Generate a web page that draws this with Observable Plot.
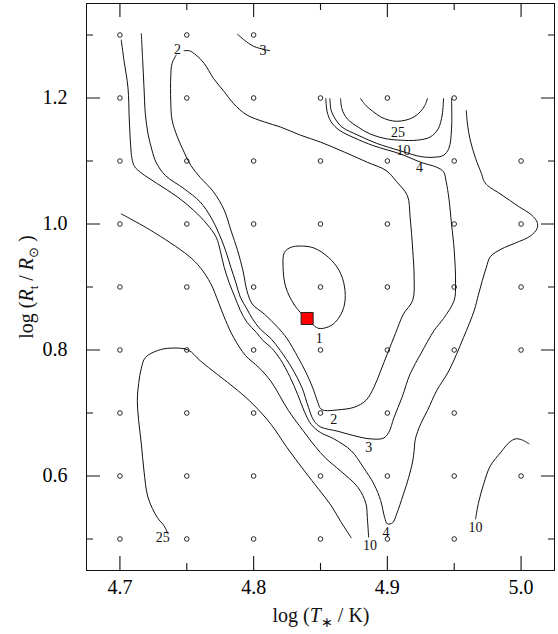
<!DOCTYPE html>
<html><head><meta charset="utf-8">
<script src="https://cdn.jsdelivr.net/npm/d3@7"></script>
<script src="https://cdn.jsdelivr.net/npm/@observablehq/plot@0.6"></script>
<style>
html,body{margin:0;padding:0;background:#fff;}
#chart svg{display:block;background:#fff;font-family:'Liberation Serif','Times New Roman',serif;}
</style>
</head><body><div id="chart"></div>
<script>
// Model grid
const gridLogT = [4.7, 4.75, 4.8, 4.85, 4.9, 4.95, 5.0];
const gridLogR = [0.5, 0.6, 0.7, 0.8, 0.9, 1.0, 1.1, 1.2, 1.3];
const gridLogTMax = [4.95, 5.0, 4.95, 5.0, 5.0, 5.0, 5.0, 4.95, 4.8];
// Best-fit model
const bestLogT = [4.84];
const bestLogR = [0.85];
// Ticks
const xMajorTicks = [4.7, 4.8, 4.9, 5.0];
const xMinorTicks = [4.75, 4.85, 4.95];
const yMajorTicks = [0.6, 0.8, 1.0, 1.2];
const yMinorTicks = [0.5, 0.7, 0.9, 1.1, 1.3];

// Contours [logT, logR]
const contour1 = [[4.836,0.857],[4.830,0.873],[4.824,0.900],[4.822,0.932],[4.823,0.955],[4.828,0.963],[4.835,0.965],[4.845,0.962],[4.856,0.947],[4.864,0.926],[4.868,0.900],[4.868,0.873],[4.864,0.852],[4.858,0.839],[4.850,0.834],[4.846,0.837],[4.843,0.844],[4.838,0.852]];
const contour2 = [[4.748,1.275],[4.752,1.275],[4.757,1.268],[4.763,1.255],[4.770,1.231],[4.778,1.210],[4.785,1.191],[4.795,1.173],[4.808,1.162],[4.820,1.154],[4.835,1.141],[4.850,1.130],[4.868,1.114],[4.885,1.098],[4.899,1.085],[4.907,1.067],[4.915,1.045],[4.917,1.011],[4.919,0.958],[4.920,0.916],[4.919,0.879],[4.912,0.857],[4.906,0.826],[4.900,0.794],[4.895,0.767],[4.890,0.741],[4.884,0.720],[4.875,0.709],[4.863,0.705],[4.853,0.704],[4.850,0.707],[4.848,0.717],[4.844,0.741],[4.839,0.765],[4.833,0.789],[4.825,0.818],[4.818,0.836],[4.808,0.857],[4.799,0.873],[4.795,0.894],[4.792,0.926],[4.788,0.958],[4.783,0.990],[4.778,1.022],[4.770,1.051],[4.760,1.074],[4.753,1.093],[4.748,1.114],[4.743,1.138],[4.739,1.165],[4.738,1.196],[4.738,1.233],[4.739,1.255],[4.742,1.268]];
const contour3 = [[4.716,1.302],[4.717,1.260],[4.718,1.217],[4.719,1.175],[4.721,1.143],[4.724,1.117],[4.727,1.098],[4.734,1.077],[4.748,1.056],[4.760,1.035],[4.768,1.011],[4.774,0.985],[4.779,0.958],[4.783,0.931],[4.787,0.905],[4.790,0.884],[4.795,0.865],[4.799,0.850],[4.805,0.833],[4.813,0.818],[4.820,0.799],[4.829,0.770],[4.836,0.741],[4.841,0.709],[4.845,0.688],[4.850,0.678],[4.863,0.671],[4.875,0.664],[4.887,0.659],[4.897,0.660],[4.901,0.669],[4.905,0.693],[4.911,0.725],[4.917,0.762],[4.925,0.794],[4.935,0.831],[4.942,0.850],[4.950,0.879],[4.951,0.905],[4.950,0.958],[4.948,1.000],[4.946,1.041],[4.944,1.067],[4.942,1.083],[4.937,1.090],[4.925,1.098],[4.910,1.111],[4.890,1.124],[4.875,1.137],[4.864,1.149],[4.858,1.162],[4.855,1.178],[4.854,1.199]];
const contour3TopLeft = [[4.788,1.301],[4.793,1.292],[4.800,1.282],[4.808,1.277],[4.812,1.275]];
const contour4 = [[4.701,1.292],[4.703,1.260],[4.706,1.217],[4.707,1.165],[4.708,1.125],[4.709,1.104],[4.711,1.091],[4.716,1.081],[4.728,1.064],[4.743,1.043],[4.755,1.022],[4.765,1.000],[4.772,0.979],[4.775,0.958],[4.778,0.931],[4.782,0.905],[4.786,0.884],[4.790,0.863],[4.795,0.844],[4.802,0.828],[4.807,0.815],[4.813,0.804],[4.820,0.785],[4.827,0.758],[4.833,0.729],[4.838,0.702],[4.843,0.682],[4.850,0.669],[4.860,0.659],[4.873,0.640],[4.882,0.614],[4.890,0.587],[4.895,0.561],[4.898,0.534],[4.900,0.524],[4.904,0.526],[4.907,0.540],[4.912,0.571],[4.916,0.598],[4.919,0.624],[4.920,0.640],[4.921,0.659],[4.925,0.683],[4.930,0.704],[4.937,0.736],[4.946,0.767],[4.957,0.820],[4.965,0.863],[4.968,0.887],[4.971,0.910],[4.974,0.931],[4.977,0.948],[4.985,0.960],[4.996,0.970],[5.007,0.981],[5.012,0.993],[5.012,1.003],[5.008,1.014],[4.998,1.028],[4.985,1.047],[4.975,1.061],[4.972,1.069],[4.971,1.076],[4.970,1.082],[4.966,1.104],[4.962,1.133],[4.960,1.157],[4.959,1.180]];
const contour4Top = [[4.857,1.199],[4.858,1.180],[4.861,1.167],[4.866,1.154],[4.878,1.141],[4.892,1.128],[4.910,1.116],[4.925,1.107],[4.935,1.106],[4.942,1.109],[4.946,1.120],[4.948,1.151],[4.948,1.199]];
const contour10Top = [[4.865,1.199],[4.866,1.183],[4.870,1.167],[4.878,1.154],[4.887,1.143],[4.900,1.135],[4.910,1.133],[4.922,1.133],[4.932,1.138],[4.938,1.151],[4.941,1.173],[4.942,1.199]];
const contour10Left = [[4.701,1.016],[4.723,0.990],[4.751,0.950],[4.760,0.931],[4.768,0.905],[4.774,0.874],[4.779,0.847],[4.785,0.820],[4.794,0.791],[4.804,0.772],[4.813,0.750],[4.826,0.704],[4.837,0.672],[4.846,0.647],[4.854,0.628],[4.865,0.608],[4.878,0.582],[4.884,0.556],[4.885,0.534],[4.886,0.503]];
const contour10Right = [[4.966,0.532],[4.968,0.556],[4.972,0.587],[4.977,0.616],[4.985,0.638],[4.991,0.653],[4.996,0.659],[5.001,0.657],[5.006,0.651]];
const contour25Top = [[4.880,1.199],[4.884,1.188],[4.889,1.179],[4.895,1.170],[4.901,1.165],[4.907,1.163],[4.914,1.165],[4.920,1.170],[4.925,1.179],[4.928,1.188],[4.930,1.199]];
const contour25Bottom = [[4.736,0.508],[4.733,0.521],[4.728,0.534],[4.721,0.566],[4.718,0.608],[4.716,0.651],[4.714,0.688],[4.713,0.720],[4.714,0.747],[4.716,0.771],[4.719,0.788],[4.728,0.799],[4.738,0.803],[4.751,0.800],[4.760,0.783],[4.773,0.761],[4.788,0.736],[4.800,0.713],[4.813,0.682],[4.825,0.645],[4.838,0.608],[4.849,0.578],[4.858,0.553],[4.865,0.528],[4.873,0.502]];

// Contour labels
const labelText = ["1","2","2","3","3","4","4","10","10","10","25","25"];
const labelLogT = [4.849,4.743,4.860,4.807,4.886,4.924,4.899,4.912,4.887,4.966,4.908,4.732];
const labelLogR = [0.819,1.277,0.689,1.275,0.646,1.090,0.510,1.116,0.489,0.518,1.146,0.502];

// Build tables
const gridPoints = [];
gridLogR.forEach((r, i) => gridLogT.forEach(t => { if (t <= gridLogTMax[i] + 1e-9) gridPoints.push({logT: t, logR: r}); }));
const best = bestLogT.map((t, i) => ({logT: t, logR: bestLogR[i]}));
const labels = labelText.map((s, i) => ({text: s, logT: labelLogT[i], logR: labelLogR[i]}));
const openContours = [contour2, contour3, contour3TopLeft, contour4, contour4Top, contour10Top, contour10Left, contour10Right, contour25Top, contour25Bottom];

const W = 558, H = 634, mL = 86, mR = 4, mT = 3, mB = 64;
const frameH = H - mT - mB;
const majorLen = 14, minorLen = 7;
const ff = "'Liberation Serif', 'Times New Roman', serif";

const lineOpts = {x: d => d[0], y: d => d[1], stroke: "#111", strokeWidth: 1, curve: "catmull-rom"};
const fmt = d => d.toFixed(1);
const blank = () => "";
const tickStyle = {stroke: "#111", strokeWidth: 1.1};

const chart = Plot.plot({
  width: W, height: H,
  marginLeft: mL, marginRight: mR, marginTop: mT, marginBottom: mB,
  x: {domain: [4.675, 5.025]},
  y: {domain: [0.45, 1.35]},
  marks: [
    ...openContours.map(c => Plot.line(c, lineOpts)),
    Plot.line(contour1, {...lineOpts, curve: "catmull-rom-closed"}),
    Plot.dot(gridPoints, {x: "logT", y: "logR", r: 2.3, stroke: "#111", strokeWidth: 0.9, fill: "none"}),
    Plot.dot(best, {x: "logT", y: "logR", symbol: "square", r: 6.8, fill: "#ff0000", stroke: "#222", strokeWidth: 1}),
    Plot.text(labels, {x: "logT", y: "logR", text: "text", fontSize: 14, fontFamily: ff, fill: "#111", textAnchor: "middle", lineAnchor: "middle"}),
    // inward x ticks (bottom / top)
    Plot.ruleX(xMajorTicks, {x: d => d, insetTop: frameH - majorLen, ...tickStyle}),
    Plot.ruleX(xMinorTicks, {x: d => d, insetTop: frameH - minorLen, ...tickStyle}),
    Plot.ruleX(xMajorTicks, {x: d => d, insetBottom: frameH - majorLen, ...tickStyle}),
    Plot.ruleX(xMinorTicks, {x: d => d, insetBottom: frameH - minorLen, ...tickStyle}),
    // inward y ticks (left / right)
    Plot.axisY(yMajorTicks, {anchor: "left", tickSize: -majorLen, tickPadding: 33, tickFormat: fmt, label: null, fontSize: 20, fontFamily: ff, stroke: "#111"}),
    Plot.axisY(yMinorTicks, {anchor: "left", tickSize: -minorLen, tickFormat: blank, label: null, stroke: "#111"}),
    Plot.axisY(yMajorTicks, {anchor: "right", tickSize: -majorLen, tickFormat: blank, label: null, stroke: "#111"}),
    Plot.axisY(yMinorTicks, {anchor: "right", tickSize: -minorLen, tickFormat: blank, label: null, stroke: "#111"}),
    // x tick labels
    Plot.axisX(xMajorTicks, {anchor: "bottom", tickSize: 0, tickPadding: 9, tickFormat: fmt, label: null, fontSize: 20, fontFamily: ff}),
    Plot.frame({stroke: "#111", strokeWidth: 1})
  ]
});
document.getElementById("chart").appendChild(chart);

// Axis titles with italic symbols and subscripts
const svg = d3.select(chart);
const xt = svg.append("text").attr("x", 321).attr("y", 622).attr("text-anchor", "middle")
  .attr("font-family", ff).attr("font-size", 20).attr("fill", "#111");
xt.append("tspan").text("log (");
xt.append("tspan").attr("font-style", "italic").text("T");
xt.append("tspan").attr("font-size", 14).attr("dy", 5).text("\u2217");
xt.append("tspan").attr("dy", -5).text(" / K)");

const yg = svg.append("g").attr("transform", "translate(33,287) rotate(-90)");
const yt = yg.append("text").attr("x", 0).attr("y", 0).attr("text-anchor", "middle")
  .attr("font-family", ff).attr("font-size", 20).attr("fill", "#111");
yt.append("tspan").text("log (");
yt.append("tspan").attr("font-style", "italic").text("R");
yt.append("tspan").attr("font-size", 13).attr("dy", 5).text("t");
yt.append("tspan").attr("dy", -5).text(" / ");
yt.append("tspan").attr("font-style", "italic").text("R");
yt.append("tspan").attr("font-size", 13).attr("dy", 5).text("\u2299");
yt.append("tspan").attr("dy", -5).text(" )");
</script>
</body></html>
